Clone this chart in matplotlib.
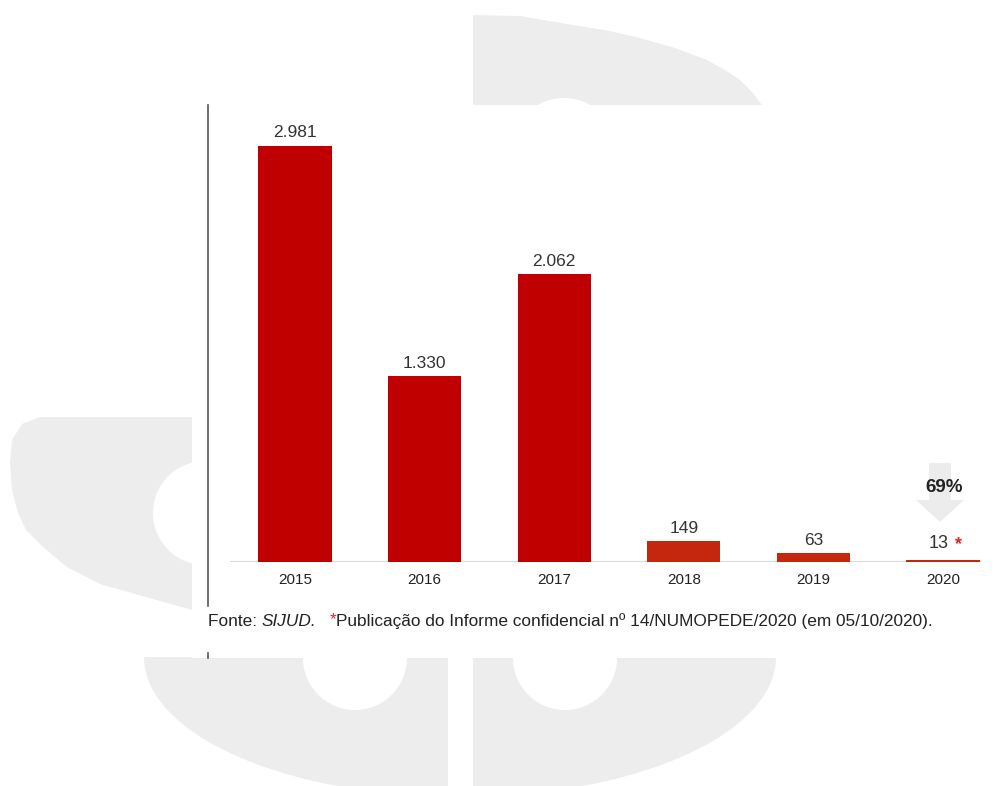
import numpy as np
import matplotlib
matplotlib.use('Agg')
import matplotlib.pyplot as plt
from matplotlib.patches import Polygon, Circle, Rectangle, FancyArrow
from matplotlib.lines import Line2D

plt.rcParams['font.family'] = ['Liberation Sans', 'DejaVu Sans']

years = ['2015', '2016', '2017', '2018', '2019', '2020']
values = [2981, 1330, 2062, 149, 63, 13]
labels = ['2.981', '1.330', '2.062', '149', '63', '13']
bar_colors = ['#c00000', '#c00000', '#c00000', '#c4260e', '#c4260e', '#c4260e']

W, H = 998, 786
fig = plt.figure(figsize=(W / 100, H / 100), dpi=100)

# background watermark, drawn in pixel coordinates
bg = fig.add_axes([0, 0, 1, 1])
bg.set_xlim(0, W)
bg.set_ylim(H, 0)
bg.axis('off')
grey = '#ededed'

top_shape = [(473, 15), (520, 16), (573, 25), (610, 31), (640, 38), (675, 48), (707, 60),
             (725, 70), (740, 80), (752, 92), (762, 105), (473, 105)]
bg.add_patch(Polygon(top_shape, closed=True, fc=grey, ec='none'))
bg.add_patch(Circle((564, 150), 52, fc='white', ec='none'))

left_shape = [(40, 417), (192, 417), (192, 610), (100, 584), (67, 567), (43, 547),
              (26, 530), (18, 513), (12, 490), (10, 463), (12, 440), (22, 424)]
bg.add_patch(Polygon(left_shape, closed=True, fc=grey, ec='none'))
bg.add_patch(Circle((205, 513), 52, fc='white', ec='none'))

t = np.linspace(0, np.pi, 80)
ell = np.column_stack([460 + 316 * np.cos(t), 657 + 140 * np.sin(t)])
bg.add_patch(Polygon(ell, closed=True, fc=grey, ec='none'))
bg.add_patch(Rectangle((448, 650), 25, 140, fc='white', ec='none'))
bg.add_patch(Circle((355, 658), 52, fc='white', ec='none'))
bg.add_patch(Circle((565, 658), 52, fc='white', ec='none'))

# white panel behind the chart
bg.add_patch(Rectangle((192, 105), W - 192, 553, fc='white', ec='none'))

# vertical rule on the left
bg.add_line(Line2D([208, 208], [105, 606], color='#555555', lw=1.2))
bg.add_line(Line2D([208, 208], [653, 658], color='#555555', lw=1.2))

# down arrow behind the percentage
bg.add_patch(FancyArrow(940, 463, 0, 59, width=22, head_width=48, head_length=22,
                        length_includes_head=True, fc='#ececec', ec='none'))

# chart axes
x0, x1, ybase, ytop = 208, 998, 562, 105
ax = fig.add_axes([x0 / W, (H - ybase) / H, (x1 - x0) / W, (ybase - ytop) / H])
ax.patch.set_alpha(0)
unit = 129.6
ppu = (562 - 146) / 2981.0
ax.set_xlim(-(295 - x0) / unit, (x1 - 295) / unit)
ax.set_ylim(0, (ybase - ytop) / ppu)
for s in ax.spines.values():
    s.set_visible(False)
ax.set_yticks([])

pos = np.arange(len(years))
ax.bar(pos, values, width=0.565, color=bar_colors, zorder=3)
ax.hlines(0, -0.5, 5.29, color='#d9d9d9', lw=1.5, zorder=2)
ax.set_xticks(pos)
ax.set_xticklabels(years, fontsize=11, color='#222222')
ax.tick_params(axis='x', length=0, pad=8)

for i, (v, lab) in enumerate(zip(values, labels)):
    if i == 5:
        ax.annotate(lab, (i - 0.03, v), xytext=(0, 6), textcoords='offset points',
                    ha='center', va='bottom', fontsize=13, color='#333333')
        ax.annotate('*', (i + 0.12, v), xytext=(0, 5), textcoords='offset points',
                    ha='center', va='bottom', fontsize=13, color='#e8202a', fontweight='bold')
    else:
        ax.annotate(lab, (i, v), xytext=(0, 4), textcoords='offset points',
                    ha='center', va='bottom', fontsize=12.5, color='#333333')

fig.text(944 / W, 1 - 487 / H, '69%', ha='center', va='center',
         fontsize=13.5, fontweight='bold', color='#222222')

# footnote
fs = 12.4
ty = 1 - 621 / H
t1 = fig.text(208 / W, ty, 'Fonte: ', ha='left', va='center', fontsize=fs, color='#222222')
fig.canvas.draw()
r = fig.canvas.get_renderer()
bb = t1.get_window_extent(r)
t2 = fig.text(bb.x1 / W, ty, 'SIJUD.', ha='left', va='center', fontsize=fs,
              color='#222222', style='italic')
bb = t2.get_window_extent(r)
t3 = fig.text((bb.x1 + 13) / W, ty + 0.002, '*', ha='left', va='center', fontsize=fs,
              color='#e8202a')
bb = t3.get_window_extent(r)
fig.text(bb.x1 / W, ty, 'Publicação do Informe confidencial nº 14/NUMOPEDE/2020 (em 05/10/2020).',
         ha='left', va='center', fontsize=fs, color='#222222')

fig.savefig('out.png', dpi=100)
